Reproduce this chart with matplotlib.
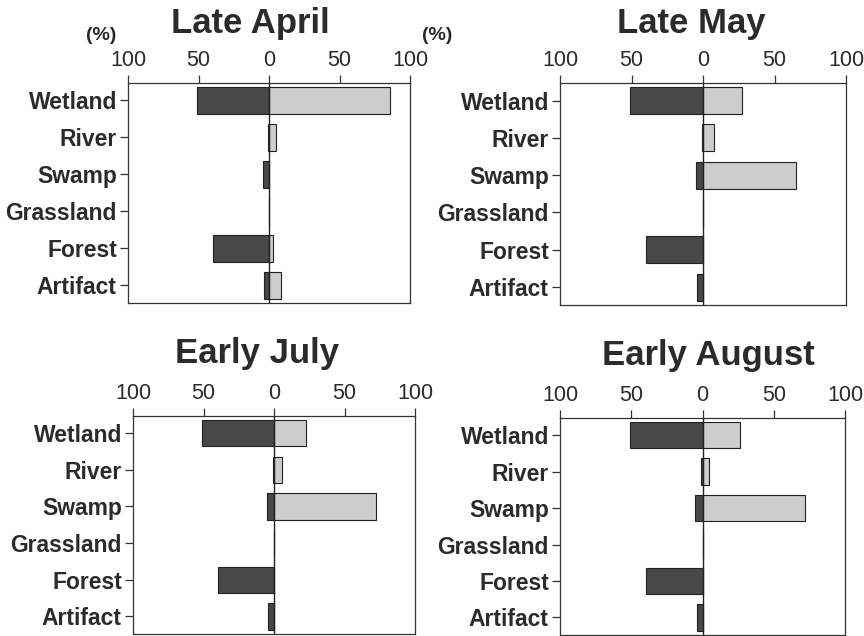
import matplotlib
matplotlib.use("Agg")
import matplotlib.pyplot as plt

plt.rcParams['font.family'] = ['Liberation Sans', 'DejaVu Sans']

categories = ["Wetland", "River", "Swamp", "Grassland", "Forest", "Artifact"]
periods = ["Late April", "Late May", "Early July", "Early August"]

# left side (dark bars), percent
left_vals = {
    "Late April":   [51, 1, 4.5, 0, 39.5, 3.5],
    "Late May":     [51, 1, 5, 0, 40, 4],
    "Early July":   [51, 1, 5, 0, 40, 4],
    "Early August": [51, 1, 5, 0, 40, 4],
}
# right side (light bars), percent
right_vals = {
    "Late April":   [86, 5, 0, 0, 2.5, 8.5],
    "Late May":     [27.5, 8, 65, 0, 0, 0],
    "Early July":   [22.5, 6, 72, 0, 0, 0],
    "Early August": [26, 4.5, 72, 0, 0, 0],
}
xticks = [-100, -50, 0, 50, 100]
xticklabels = ["100", "50", "0", "50", "100"]

W, H = 864, 636
fig = plt.figure(figsize=(W / 100, H / 100), dpi=100)

# axes boxes in pixels: left, right, top, bottom
boxes = {
    "Late April":   (128, 410, 83, 303),
    "Late May":     (560, 846, 83, 305),
    "Early July":   (133, 415, 416, 634),
    "Early August": (560, 845, 418, 635),
}
title_pos = {
    "Late April":   (250, 33),
    "Late May":     (691, 33),
    "Early July":   (257, 363),
    "Early August": (708, 365),
}
pct_pos = {"Late April": (101, 40), "Late May": (437, 40)}

TXT = "#2b2b2b"
DARK = "#484848"
LIGHT = "#cdcdcd"

for p in periods:
    l, r, t, b = boxes[p]
    ax = fig.add_axes([l / W, (H - b) / H, (r - l) / W, (b - t) / H])
    y = list(range(len(categories)))
    lv = [-v for v in left_vals[p]]
    rv = right_vals[p]
    ax.barh(y, lv, height=0.72, color=DARK, edgecolor="#222222", linewidth=0.8)
    ax.barh(y, rv, height=0.72, color=LIGHT, edgecolor="#222222", linewidth=0.8)
    ax.axvline(0, color="#222222", linewidth=1.0)
    ax.set_xlim(-100, 100)
    ax.set_ylim(5.48, -0.47)
    ax.xaxis.tick_top()
    ax.set_xticks(xticks)
    ax.set_xticklabels(xticklabels, fontsize=15.5, color=TXT)
    ax.set_yticks(y)
    ax.set_yticklabels(categories, fontsize=16.5, fontweight="bold", color=TXT)
    ax.tick_params(axis="x", direction="out", length=5.5, width=0.9, pad=3, colors="#333333", labelcolor=TXT)
    ax.tick_params(axis="y", direction="out", length=6, width=0.9, pad=2, colors="#333333", labelcolor=TXT)
    for s in ax.spines.values():
        s.set_color("#333333")
        s.set_linewidth(0.9)
    tx, ty = title_pos[p]
    fig.text(tx / W, (H - ty) / H, p, fontsize=25, fontweight="bold", color=TXT,
             ha="center", va="baseline")
    if p in pct_pos:
        px, py = pct_pos[p]
        fig.text(px / W, (H - py) / H, "(%)", fontsize=14, fontweight="bold", color=TXT,
                 ha="center", va="baseline")

fig.savefig("out.png", dpi=100)
